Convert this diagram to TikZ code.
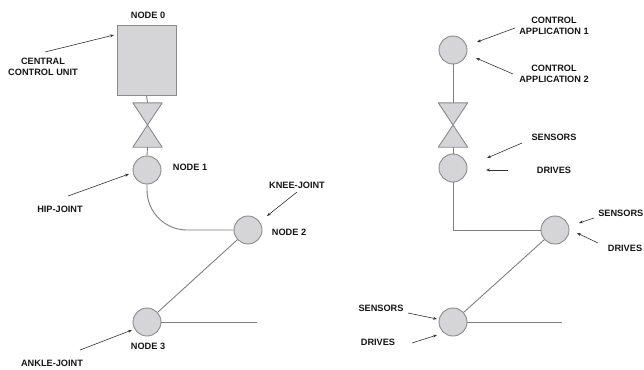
\documentclass[tikz,border=0pt]{standalone}
\usepackage{fontspec}
\setmainfont{Liberation Sans}
\usetikzlibrary{arrows.meta}
\definecolor{partfill}{HTML}{D5D5D7}
\definecolor{partedge}{HTML}{8C8A8A}
\definecolor{linkcol}{HTML}{877C7C}
\definecolor{pointer}{HTML}{333333}
\definecolor{labelcol}{HTML}{161616}
\tikzset{
  joint/.style={circle, draw=partedge, fill=partfill, line width=0.9pt, minimum size=28pt, inner sep=0pt},
  unitbox/.style={rectangle, draw=partedge, fill=partfill, line width=0.9pt, minimum width=59pt, minimum height=70pt, inner sep=0pt},
  valvebox/.style={rectangle, minimum width=29pt, minimum height=44pt, inner sep=0pt},
  valveshape/.style={draw=partedge, fill=partfill, line width=0.9pt, line join=round},
  link/.style={draw=linkcol, line width=0.9pt},
  pointerline/.style={draw=pointer, line width=0.6pt, -{Stealth[length=4pt,width=3pt]}},
  lbl/.style={text=labelcol, font=\fontsize{9.2}{11}\selectfont\bfseries, align=center, inner sep=0pt}
}
\begin{document}
\begin{tikzpicture}[x=1pt,y=-1pt]
\useasboundingbox (0,0) rectangle (644,369);
\fill[white] (0,0) rectangle (644,369);

% ---------- left chain: physical nodes ----------
\node[unitbox] (unit) at (146.5,60) {};
\node[valvebox] (va) at (147.5,125) {};
\node[joint] (hip) at (147,170) {};
\node[joint] (knee) at (248,230) {};
\node[joint] (ankle) at (147,322) {};
\coordinate (footL) at (257,322);

\draw[link] (unit.south) -- (va.north);
\draw[link] (va.south) -- (hip.north);
\draw[valveshape] (va.north west) -- (va.north east) -- (va.south west) -- (va.south east) -- cycle;
\draw[link, rounded corners=40pt] (hip.south) |- (knee.west);
\draw[link] (knee) -- (ankle);
\draw[link] (ankle.east) -- (footL);

\node[lbl] (t0) at (148,15) {NODE 0};
\node[lbl] (t1) at (190,167) {NODE 1};
\node[lbl] (t2) at (289,232) {NODE 2};
\node[lbl] (t3) at (148,346) {NODE 3};
\node[lbl] (tccu) at (43,66.5) {CENTRAL\\CONTROL UNIT};
\node[lbl] (thip) at (60,209) {HIP-JOINT};
\node[lbl] (tknee) at (297,185) {KNEE-JOINT};
\node[lbl] (tankle) at (52,363) {ANKLE-JOINT};

\coordinate (ccuA) at (45,52);   \coordinate (ccuB) at (114,35);
\coordinate (hipA) at (68,196);  \coordinate (hipB) at (129,174);
\coordinate (kneeA) at (297,192); \coordinate (kneeB) at (267,216);
\coordinate (ankA) at (80,350);  \coordinate (ankB) at (132,330);
\draw[pointerline] (ccuA) -- (ccuB);
\draw[pointerline] (hipA) -- (hipB);
\draw[pointerline] (kneeA) -- (kneeB);
\draw[pointerline] (ankA) -- (ankB);

% ---------- right chain: distributed functions ----------
\node[joint] (app) at (453,50) {};
\node[valvebox] (vb) at (453,125) {};
\node[joint] (dr1) at (453,168) {};
\node[joint] (dr2) at (555,230) {};
\node[joint] (dr3) at (453,322) {};
\coordinate (footR) at (562,322);

\draw[link] (app.south) -- (vb.north);
\draw[link] (vb.south) -- (dr1.north);
\draw[valveshape] (vb.north west) -- (vb.north east) -- (vb.south west) -- (vb.south east) -- cycle;
\draw[link] (dr1.south) |- (dr2.west);
\draw[link] (dr2) -- (dr3);
\draw[link] (dr3.east) -- (footR);

\node[lbl] (ca1) at (554,26) {CONTROL\\APPLICATION 1};
\node[lbl] (ca2) at (554,74) {CONTROL\\APPLICATION 2};
\node[lbl] (s1) at (554,137) {SENSORS};
\node[lbl] (d1) at (554,170) {DRIVES};
\node[lbl, anchor=east] (s2) at (643.5,213) {SENSORS};
\node[lbl] (d2) at (625,248) {DRIVES};
\node[lbl] (s3) at (381,308) {SENSORS};
\node[lbl] (d3) at (378,342) {DRIVES};

\coordinate (ca1A) at (515,28);  \coordinate (ca1B) at (477,42);
\coordinate (ca2A) at (513,74);  \coordinate (ca2B) at (476,58);
\coordinate (s1A) at (522,143);  \coordinate (s1B) at (487,158);
\coordinate (d1A) at (508,170);  \coordinate (d1B) at (486,170);
\coordinate (s2A) at (594,218);  \coordinate (s2B) at (579,223);
\coordinate (d2A) at (598,243);  \coordinate (d2B) at (577,233);
\coordinate (s3A) at (408,313);  \coordinate (s3B) at (437,319);
\coordinate (d3A) at (412,343);  \coordinate (d3B) at (437,335);
\draw[pointerline] (ca1A) -- (ca1B);
\draw[pointerline] (ca2A) -- (ca2B);
\draw[pointerline] (s1A) -- (s1B);
\draw[pointerline] (d1A) -- (d1B);
\draw[pointerline] (s2A) -- (s2B);
\draw[pointerline] (d2A) -- (d2B);
\draw[pointerline] (s3A) -- (s3B);
\draw[pointerline] (d3A) -- (d3B);
\end{tikzpicture}
\end{document}
